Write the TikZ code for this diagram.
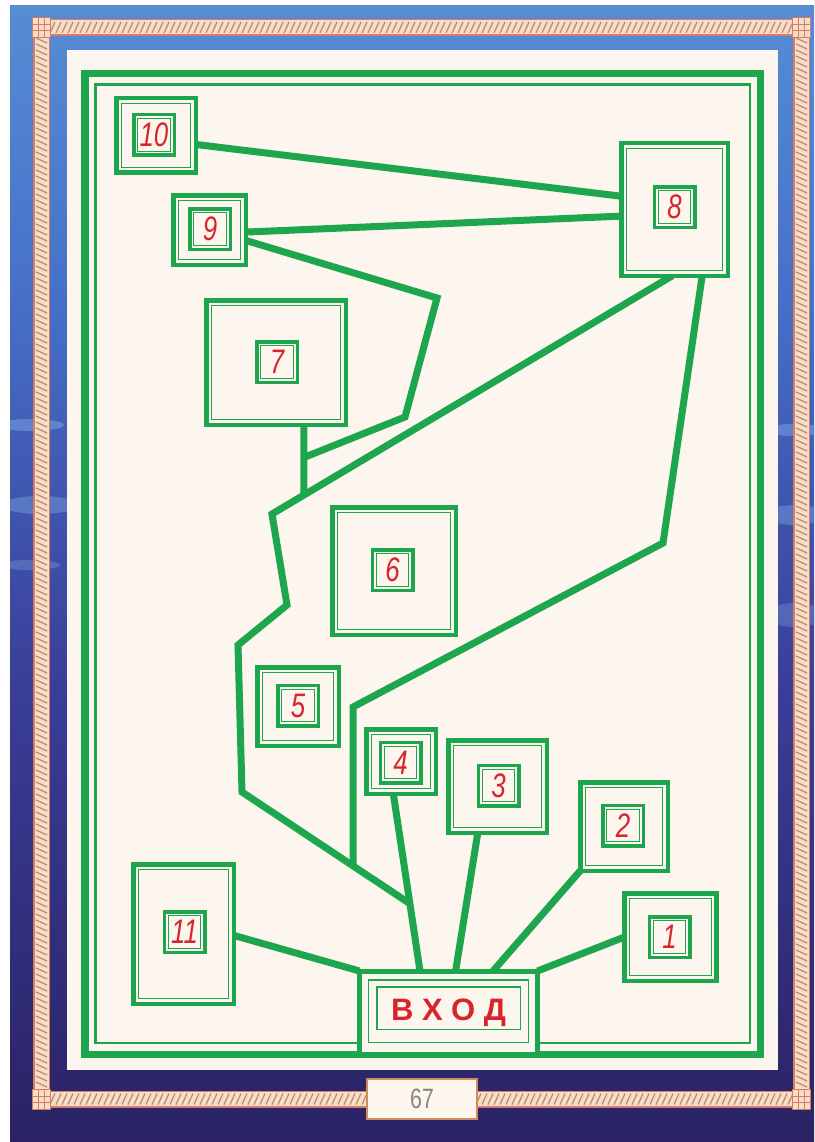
\documentclass[tikz,border=0pt]{standalone}
\usepackage{fontspec}
\setmainfont{Liberation Sans}
\newfontfamily\numfont[FakeStretch=0.76]{Liberation Sans}
\usetikzlibrary{calc}
\definecolor{grn}{RGB}{30,166,78}
\definecolor{cream}{RGB}{252,246,238}
\definecolor{numred}{RGB}{214,38,44}
\definecolor{ropefill}{RGB}{248,222,200}
\definecolor{ropeedge}{RGB}{212,124,100}
\definecolor{ropetwist}{RGB}{190,140,110}
\definecolor{skyA}{RGB}{94,152,218}
\definecolor{skyB}{RGB}{70,112,200}
\definecolor{skyC}{RGB}{58,62,152}
\definecolor{skyD}{RGB}{42,34,100}
\definecolor{streak}{RGB}{150,200,245}
\definecolor{pgedge}{RGB}{208,140,92}
\definecolor{pggray}{RGB}{138,132,128}
\pgfdeclareverticalshading{pageshade}{100bp}{color(0bp)=(skyD); color(25bp)=(skyD); color(45bp)=(skyC); color(62bp)=(skyB); color(80bp)=(skyA); color(100bp)=(skyA)}
\pgfdeclarelayer{bg}
\pgfdeclarelayer{conn}
\pgfsetlayers{bg,conn,main}
\begin{document}
\begin{tikzpicture}[x=1pt,y=-1pt,
  room/.style={rectangle, draw=grn, line width=4.5pt, fill=cream, inner sep=0pt, outer sep=0pt,
    path picture={\draw[grn, line width=1.3pt] ([shift={(5pt,-5pt)}]path picture bounding box.north west) rectangle ([shift={(-5pt,5pt)}]path picture bounding box.south east);}},
  lab/.style={rectangle, draw=grn, line width=3.5pt, fill=cream, minimum size=40.5pt, inner sep=0pt, outer sep=0pt,
    text=numred, font=\numfont\itshape\fontsize{34pt}{34pt}\selectfont,
    path picture={\draw[grn, line width=1.2pt] ([shift={(4pt,-4pt)}]path picture bounding box.north west) rectangle ([shift={(-4pt,4pt)}]path picture bounding box.south east);}},
  entry/.style={rectangle, draw=grn, line width=5pt, fill=cream, minimum width=178pt, minimum height=83.5pt, inner sep=0pt, outer sep=0pt,
    text=numred, font=\bfseries\fontsize{31pt}{31pt}\selectfont},
  conn/.style={draw=grn, line width=7pt, line join=miter},
  thinframe/.style={draw=grn, line width=1.3pt},
  pagebox/.style={rectangle, draw=pgedge, line width=2pt, fill=cream, minimum width=110pt, minimum height=40pt, inner sep=0pt,
    text=pggray, font=\numfont\fontsize{28pt}{28pt}\selectfont},
  twist/.style={draw=ropetwist, line width=1.3pt}
]
\useasboundingbox (0,0) rectangle (814,1142);
\begin{pgfonlayer}{bg}
  \shade[shading=pageshade] (0,0) rectangle (814,1142);
  \fill[streak, opacity=0.35] (30,425) ellipse (34 and 6);
  \fill[streak, opacity=0.3] (40,505) ellipse (38 and 9);
  \fill[streak, opacity=0.25] (30,565) ellipse (30 and 5);
  \fill[streak, opacity=0.35] (795,430) ellipse (30 and 6);
  \fill[streak, opacity=0.3] (795,515) ellipse (30 and 10);
  \fill[streak, opacity=0.25] (795,615) ellipse (30 and 12);
  \fill[white] (0,0) rectangle (10,1142);
  \fill[white] (0,0) rectangle (814,5);
  % rope border
  \draw[ropeedge, line width=17pt] (41.5,27.5) rectangle (801.5,1099);
  \draw[ropefill, line width=14pt] (41.5,27.5) rectangle (801.5,1099);
  \foreach \x in {50,56,...,790} {
    \draw[twist] (\x,33) -- (\x+5,22);
    \draw[twist] (\x,1104.5) -- (\x+5,1093.5);
  }
  \foreach \y in {38,44,...,1086} {
    \draw[twist] (36,\y) -- (47,\y+5);
    \draw[twist] (796,\y) -- (807,\y+5);
  }
  \foreach \cx/\cy in {41.5/27.5, 801.5/27.5, 41.5/1099, 801.5/1099} {
    \draw[ropeedge, fill=ropefill, line width=1pt] (\cx-9,\cy-10) rectangle (\cx+9,\cy+10);
    \draw[ropeedge, line width=0.8pt] (\cx-3,\cy-10) -- (\cx-3,\cy+10) (\cx+3,\cy-10) -- (\cx+3,\cy+10)
      (\cx-9,\cy-3) -- (\cx+9,\cy-3) (\cx-9,\cy+3) -- (\cx+9,\cy+3);
  }
  % cream panel and green frame
  \fill[cream] (67,50) rectangle (778,1070);
  \draw[grn, line width=7.5pt] (85,73.5) rectangle (760.5,1054.5);
  \draw[grn, line width=2.5pt] (95.5,84.5) rectangle (750,1043);
\end{pgfonlayer}

% rooms
\node[room, minimum width=79.5pt, minimum height=74.5pt] (b10) at (156,135.5) {};
\node[room, minimum width=72.5pt, minimum height=69.5pt] (b9) at (209.5,230) {};
\node[room, minimum width=106.5pt, minimum height=132.5pt] (b8) at (674.5,209.5) {};
\node[room, minimum width=139.5pt, minimum height=124.5pt] (b7) at (276,362.5) {};
\node[room, minimum width=123.5pt, minimum height=127.5pt] (b6) at (394,571) {};
\node[room, minimum width=81.5pt, minimum height=78.5pt] (b5) at (298,706.5) {};
\node[room, minimum width=69.5pt, minimum height=64.5pt] (b4) at (401,761.5) {};
\node[room, minimum width=98.5pt, minimum height=92.5pt] (b3) at (497.5,786.5) {};
\node[room, minimum width=87.5pt, minimum height=88.5pt] (b2) at (624,826.5) {};
\node[room, minimum width=92pt, minimum height=87.5pt] (b1) at (670.5,937) {};
\node[room, minimum width=100.5pt, minimum height=139.5pt] (b11) at (183.5,934) {};

% labels
\node[lab] (l10) at (154,135) {10};
\node[lab] (l9) at (210,229) {9};
\node[lab] (l8) at (674.5,207) {8};
\node[lab] (l7) at (277,362) {7};
\node[lab] (l6) at (392.5,570) {6};
\node[lab] (l5) at (298,705.5) {5};
\node[lab] (l4) at (400.5,762.5) {4};
\node[lab] (l3) at (498.5,785.5) {3};
\node[lab] (l2) at (623,825.5) {2};
\node[lab] (l1) at (669.5,937) {1};
\node[lab] (l11) at (184.5,932) {11};

% entrance
\node[entry] (vhod) at (448.5,1012.75) {В\hspace{8.5pt}Х\hspace{8.5pt}О\hspace{8.5pt}Д};
\draw[thinframe] ([shift={(9pt,-9pt)}]vhod.north west) rectangle ([shift={(-9pt,12pt)}]vhod.south east);
\draw[thinframe] ([shift={(17.5pt,-16pt)}]vhod.north west) rectangle ([shift={(-17pt,25pt)}]vhod.south east);

% page number
\node[pagebox] (pg) at (422,1099) {67};

% connectors
\begin{pgfonlayer}{conn}
  \draw[conn] ($(b10.north east)!0.62!(b10.south east)$) -- ($(b8.north west)!0.40!(b8.south west)$);
  \draw[conn] ($(b9.north east)!0.53!(b9.south east)$) -- ($(b8.north west)!0.55!(b8.south west)$);
  \coordinate (s7) at ($(b7.south west)!0.70!(b7.south east)$);
  \coordinate (s7b) at ($(s7)+(0,150)$);
  \coordinate (s8) at ($(b8.south west)!0.48!(b8.south east)$);
  \coordinate (k1) at (272,514);
  \coordinate (j7) at (intersection of s7--s7b and s8--k1);
  \coordinate (q9) at (437,298);
  \coordinate (q9b) at (405,417);
  \coordinate (q9c) at (205,497);
  \coordinate (j9) at (intersection of s7--s7b and q9b--q9c);
  \draw[conn] ($(b9.north east)!0.65!(b9.south east)$) -- (q9) -- (q9b) -- (j9);
  \draw[conn] (s7) -- (j7);
  \coordinate (k2) at (287,605);
  \coordinate (k3) at (238,645);
  \coordinate (k4) at (242,792);
  \coordinate (s4) at ($(b4.south west)!0.39!(b4.south east)$);
  \coordinate (e4) at ($(vhod.north west)!0.34!(vhod.north east)$);
  \coordinate (j4) at ($(s4)!0.62!(e4)$);
  \draw[conn] (s8) -- (k1) -- (k2) -- (k3) -- (k4) -- (j4);
  \draw[conn] (s4) -- (e4);
  \coordinate (s8b) at ($(b8.south west)!0.76!(b8.south east)$);
  \coordinate (m1) at (663,543);
  \coordinate (m2) at (353,707);
  \coordinate (m3) at (353,950);
  \coordinate (j5) at (intersection of m2--m3 and k4--j4);
  \draw[conn] (s8b) -- (m1) -- (m2) -- (j5);
  \draw[conn] ($(b3.south west)!0.30!(b3.south east)$) -- ($(vhod.north west)!0.54!(vhod.north east)$);
  \draw[conn] (b2.south west) -- ($(vhod.north west)!0.75!(vhod.north east)$);
  \draw[conn] (b1.west) -- (vhod.north east);
  \draw[conn] ($(b11.north east)!0.51!(b11.south east)$) -- (vhod.north west);
\end{pgfonlayer}
\end{tikzpicture}
\end{document}
